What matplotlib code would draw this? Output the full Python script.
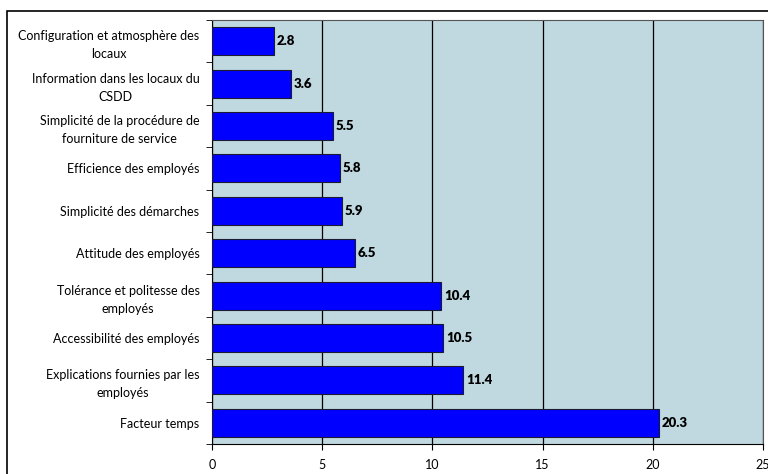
import matplotlib.pyplot as plt
from matplotlib.patches import Rectangle

categories = [
    "Configuration et atmosphère des\nlocaux",
    "Information dans les locaux du\nCSDD",
    "Simplicité de la procédure de\nfourniture de service",
    "Efficience des employés",
    "Simplicité des démarches",
    "Attitude des employés",
    "Tolérance et politesse des\nemployés",
    "Accessibilité des employés",
    "Explications fournies par les\nemployés",
    "Facteur temps",
]
values = [2.8, 3.6, 5.5, 5.8, 5.9, 6.5, 10.4, 10.5, 11.4, 20.3]
x_ticks = [0, 5, 10, 15, 20, 25]

plt.rcParams['font.family'] = ['Lato', 'DejaVu Sans']

fig = plt.figure(figsize=(7.68, 4.74), dpi=100)
# outer chart frame, partially running off the canvas
fig.patches.append(Rectangle((7 / 768, -0.1), 1.2, (474 - 11) / 474 + 0.1,
                             transform=fig.transFigure, fill=False,
                             edgecolor='black', linewidth=1.2))

ax = fig.add_axes([212 / 768, (474 - 444) / 474, (763 - 212) / 768, (444 - 20) / 474])
ax.set_facecolor('#C0D9E0')

ypos = list(range(len(categories)))
ax.barh(ypos, values, height=0.66, color='#0000FF', edgecolor='#1a1a33',
        linewidth=0.8, zorder=3)
for y, v in zip(ypos, values):
    ax.text(v + 0.12, y, f"{v:.1f}", va='center', ha='left',
            fontsize=9.5, fontweight='heavy', zorder=4)

ax.set_xlim(0, 25)
ax.set_ylim(len(categories) - 0.5, -0.5)
ax.set_xticks(x_ticks)
ax.set_xticklabels([str(t) for t in x_ticks], fontsize=9)
ax.xaxis.grid(True, color='black', linewidth=0.9, zorder=1)
ax.set_axisbelow(True)

ax.set_yticks(ypos)
ax.set_yticklabels(categories, fontsize=9, multialignment='center', linespacing=1.6)
ax.tick_params(axis='y', length=0, pad=9)
ax.set_yticks([i + 0.5 for i in range(-1, len(categories))], minor=True)
ax.tick_params(axis='y', which='minor', length=4, color='black')
ax.tick_params(axis='x', length=4, color='black', pad=7)

for s in ['top', 'right']:
    ax.spines[s].set_color('#555555')
for s in ['left', 'bottom']:
    ax.spines[s].set_color('black')

fig.savefig('out.png', dpi=100)
